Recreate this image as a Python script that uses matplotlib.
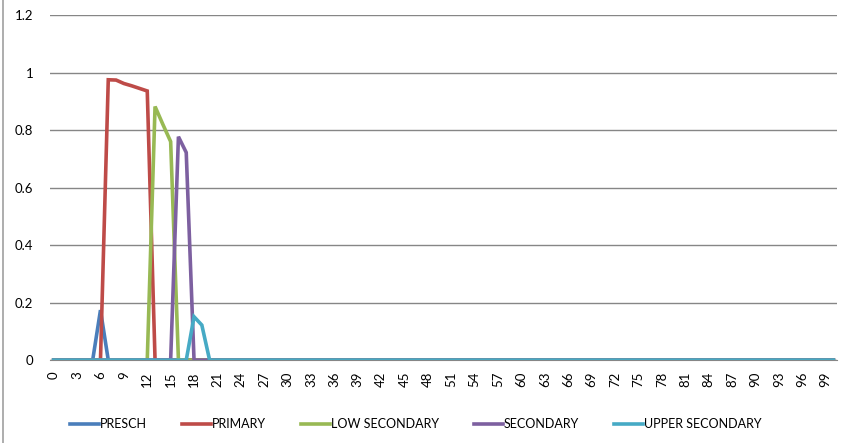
import matplotlib.pyplot as plt
from matplotlib.lines import Line2D
import numpy as np

plt.rcParams['font.family'] = ['Lato', 'DejaVu Sans']

# categories 0..100
ages = list(range(101))
tick_labels = [str(a) for a in range(0, 100, 3)]

# nonzero values, everything else is 0
presch_pts = {6: 0.174}
primary_pts = {7: 0.975, 8: 0.974, 9: 0.962, 10: 0.954, 11: 0.945, 12: 0.936}
low_sec_pts = {13: 0.882, 14: 0.82, 15: 0.76}
secondary_pts = {16: 0.777, 17: 0.722}
upper_sec_pts = {18: 0.151, 19: 0.122}

names = ['PRESCH', 'PRIMARY', 'LOW SECONDARY', 'SECONDARY', 'UPPER SECONDARY']
colors = ['#4a7ebb', '#be4b48', '#98b954', '#7d60a0', '#46aac5']


def series(pts):
    return [pts.get(a, 0) for a in ages]


fig = plt.figure(figsize=(8.44, 4.43), dpi=100)
ax = fig.add_axes([0.059, 0.187, 0.933, 0.779])

for name, pts, c in zip(names, [presch_pts, primary_pts, low_sec_pts, secondary_pts, upper_sec_pts], colors):
    ax.plot(ages, series(pts), color=c, lw=2.6, label=name, solid_joinstyle='miter')

ax.set_xlim(-0.5, 100.5)
ax.set_ylim(0, 1.2)
ax.set_yticks([0, 0.2, 0.4, 0.6, 0.8, 1, 1.2])
ax.set_yticklabels(['0', '0.2', '0.4', '0.6', '0.8', '1', '1.2'], fontsize=9.5)
ax.set_xticks(range(0, 100, 3))
ax.set_xticklabels(tick_labels, rotation=90, fontsize=9.5)
ax.tick_params(axis='both', length=0, pad=8)
ax.tick_params(axis='y', pad=12)
ax.grid(axis='y', color='#868686', lw=1)
ax.set_axisbelow(True)
for s in ['top', 'right', 'left']:
    ax.spines[s].set_visible(False)
ax.spines['bottom'].set_color('#868686')

ax.legend(loc='upper center', bbox_to_anchor=(0.465, -0.135), ncol=5, frameon=False,
          fontsize=9, handlelength=2.3, handletextpad=0.1, columnspacing=2.8)

fig.add_artist(Line2D([0.003, 0.003], [0, 1], color='#a0a0a0', lw=1.2))

fig.savefig('out.png', dpi=100)
